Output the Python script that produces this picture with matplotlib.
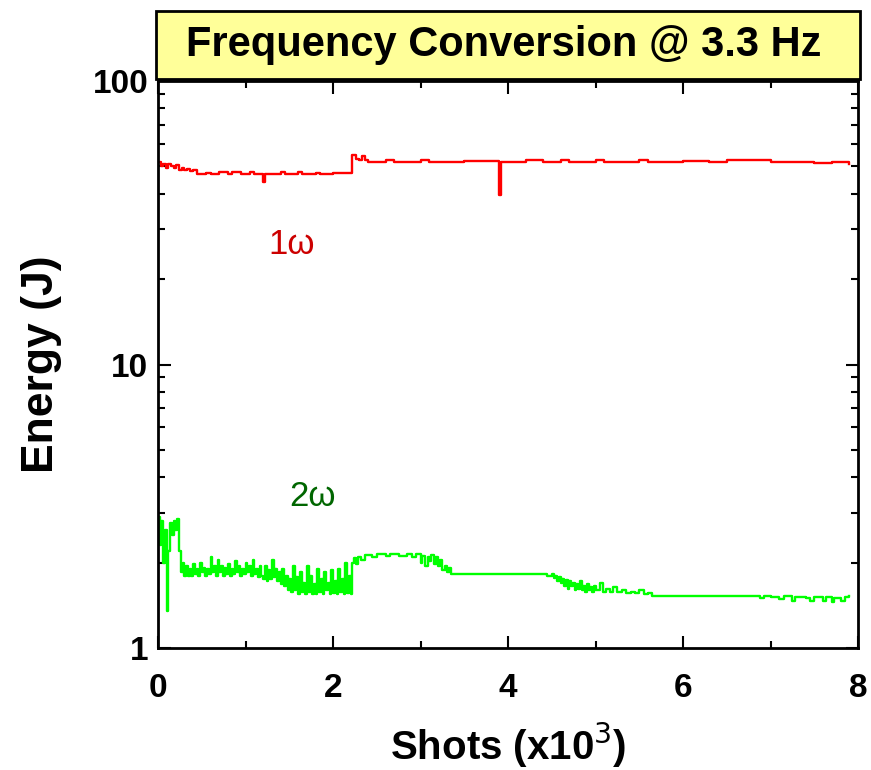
"""
    Frequency conversion energy vs shots (log scale)
"""
import matplotlib
matplotlib.use('Agg')
import matplotlib.pyplot as plt
from matplotlib.patches import Rectangle
from matplotlib.ticker import LogLocator, NullFormatter, MultipleLocator

plt.rcParams['font.family'] = ['Liberation Sans', 'DejaVu Sans']

# 1w energy (J) vs shots (x10^3)
shots_1w = [0.00, 0.03, 0.06, 0.09, 0.12, 0.15, 0.18, 0.21, 0.24, 0.27,
            0.30, 0.33, 0.36, 0.40, 0.45, 0.55, 0.60, 0.70, 0.80, 0.85,
            0.95, 1.05, 1.10, 1.20, 1.22, 1.40, 1.45, 1.60, 1.65, 1.80,
            1.85, 2.00, 2.20, 2.22, 2.26, 2.30, 2.33, 2.36, 2.40, 2.60,
            2.70, 3.00, 3.10, 3.50, 3.90, 3.92, 4.20, 4.40, 4.60, 4.70,
            5.00, 5.10, 5.50, 5.60, 6.00, 6.30, 6.50, 7.00, 7.20, 7.50,
            7.70, 7.90]
energy_1w = [52, 50, 51, 49.5, 51, 50, 49.5, 50.5, 48.5, 49.5,
             48.5, 49, 48, 48.5, 47, 47.5, 47, 47.8, 47, 47.8,
             47, 47.8, 47, 44, 47, 47.8, 47, 47.8, 47, 47.5,
             47, 47.3, 47.5, 55, 53, 52.5, 54.5, 52.5, 52, 52.6,
             52, 52.8, 52, 52.3, 39.5, 52, 52.6, 52, 52.6, 52,
             52.5, 52, 52.6, 52, 52.3, 52, 52.6, 52, 51.8, 51.5,
             51.8, 51]

# 2w energy (J) vs shots (x10^3)
shots_2w = [0.00, 0.02, 0.04, 0.06, 0.08, 0.10, 0.12, 0.14, 0.16, 0.18,
            0.20, 0.22, 0.24, 0.26, 0.28, 0.30, 0.32, 0.34, 0.36, 0.38,
            0.40, 0.42, 0.44, 0.46, 0.48, 0.50, 0.52, 0.54, 0.56, 0.58,
            0.60, 0.62, 0.64, 0.66, 0.68, 0.70, 0.72, 0.74, 0.76, 0.78,
            0.80, 0.82, 0.84, 0.86, 0.88, 0.90, 0.92, 0.94, 0.96, 0.98,
            1.00, 1.02, 1.04, 1.06, 1.08, 1.10, 1.12, 1.14, 1.16, 1.18,
            1.20, 1.22, 1.24, 1.26, 1.28, 1.30, 1.32, 1.34, 1.36, 1.38,
            1.40, 1.42, 1.44, 1.46, 1.48, 1.50, 1.52, 1.54, 1.56, 1.58,
            1.60, 1.62, 1.64, 1.66, 1.68, 1.70, 1.72, 1.74, 1.76, 1.78,
            1.80, 1.82, 1.84, 1.86, 1.88, 1.90, 1.92, 1.94, 1.96, 1.98,
            2.00, 2.02, 2.04, 2.06, 2.08, 2.10, 2.12, 2.14, 2.16, 2.18,
            2.20, 2.22, 2.24, 2.26, 2.28, 2.32, 2.36, 2.45, 2.50, 2.60,
            2.65, 2.75, 2.85, 2.90, 2.95, 3.00, 3.02, 3.05, 3.08, 3.10,
            3.12, 3.15, 3.18, 3.20, 3.22, 3.25, 3.28, 3.30, 3.32, 3.35,
            3.40, 3.60, 4.00, 4.30, 4.45, 4.50, 4.52, 4.54, 4.56, 4.58,
            4.60, 4.62, 4.64, 4.66, 4.68, 4.70, 4.72, 4.74, 4.76, 4.78,
            4.80, 4.82, 4.84, 4.86, 4.88, 4.90, 4.92, 4.94, 4.96, 4.98,
            5.00, 5.05, 5.08, 5.12, 5.16, 5.20, 5.24, 5.30, 5.35, 5.40,
            5.45, 5.50, 5.55, 5.60, 5.65, 5.75, 6.00, 6.50, 6.88, 6.92,
            7.00, 7.10, 7.15, 7.25, 7.28, 7.40, 7.45, 7.50, 7.60, 7.63,
            7.70, 7.73, 7.80, 7.85, 7.90]
energy_2w = [2.9, 2.3, 2.8, 2.0, 2.6, 1.35, 2.2, 2.75, 2.5, 2.8,
             2.6, 2.85, 2.2, 1.85, 2.0, 1.8, 1.95, 1.8, 1.9, 1.8,
             1.98, 1.82, 1.9, 1.8, 2.0, 1.85, 1.92, 1.8, 1.9, 1.82,
             2.1, 1.85, 1.95, 1.8, 2.05, 1.85, 1.95, 1.8, 1.92, 1.82,
             1.98, 1.8, 1.9, 1.82, 2.02, 1.85, 1.95, 1.8, 1.9, 1.82,
             2.0, 1.85, 1.95, 1.8, 2.05, 1.82, 1.9, 1.78, 1.95, 1.8,
             1.75, 1.95, 1.72, 1.88, 1.75, 2.05, 1.78, 1.9, 1.72, 1.85,
             1.68, 1.9, 1.65, 1.8, 1.6, 1.75, 1.58, 1.95, 1.6, 1.78,
             1.55, 1.85, 1.58, 1.7, 1.55, 1.95, 1.58, 1.8, 1.55, 1.68,
             1.55, 1.9, 1.58, 1.75, 1.55, 1.85, 1.6, 1.7, 1.55, 1.88,
             1.56, 1.72, 1.55, 1.9, 1.58, 1.75, 1.55, 2.0, 1.56, 1.8,
             1.55, 2.0, 2.08, 1.98, 2.1, 2.05, 2.13, 2.1, 2.15, 2.12,
             2.15, 2.12, 2.15, 2.1, 2.14, 2.0, 2.12, 1.95, 2.1, 2.02,
             2.13, 1.98, 2.1, 1.95, 2.05, 1.88, 1.95, 1.85, 1.92, 1.83,
             1.82, 1.82, 1.82, 1.82, 1.8, 1.82, 1.76, 1.8, 1.72, 1.78,
             1.7, 1.75, 1.66, 1.74, 1.62, 1.72, 1.65, 1.7, 1.6, 1.68,
             1.62, 1.72, 1.6, 1.66, 1.58, 1.68, 1.6, 1.64, 1.58, 1.66,
             1.6, 1.7, 1.58, 1.62, 1.58, 1.64, 1.58, 1.6, 1.56, 1.58,
             1.56, 1.6, 1.55, 1.56, 1.53, 1.52, 1.52, 1.52, 1.5, 1.52,
             1.51, 1.49, 1.52, 1.46, 1.51, 1.5, 1.47, 1.51, 1.46, 1.51,
             1.45, 1.5, 1.47, 1.51, 1.52]

fig = plt.figure(figsize=(8.71, 7.70), dpi=100, facecolor='white')
ax = fig.add_axes([0.1814, 0.1584, 0.8037, 0.7364])

ax.plot(shots_1w, energy_1w, color='#ff0000', lw=1.7, drawstyle='steps-post')
ax.plot(shots_2w, energy_2w, color='#00ff00', lw=1.7, drawstyle='steps-post')

ax.text(1.53, 26.4, '1ω', color='#cc0000', fontsize=25, ha='center', va='center')
ax.text(1.76, 3.41, '2ω', color='#006600', fontsize=25, ha='center', va='center')

ax.set_yscale('log')
ax.set_xlim(0, 8)
ax.set_ylim(1, 100)
ax.xaxis.set_major_locator(MultipleLocator(2))
ax.xaxis.set_minor_locator(MultipleLocator(1))
ax.yaxis.set_minor_locator(LogLocator(base=10, subs=range(2, 10)))
ax.yaxis.set_minor_formatter(NullFormatter())
ax.set_yticks([1, 10, 100])
ax.set_yticklabels(['1', '10', '100'])

ax.tick_params(which='both', direction='in', top=True, right=True, width=1.5)
ax.tick_params(which='major', length=9, labelsize=24)
ax.tick_params(axis='x', which='major', pad=18)
ax.tick_params(axis='y', which='major', pad=7)
ax.tick_params(which='minor', length=5)
for lab in ax.get_xticklabels() + ax.get_yticklabels():
    lab.set_fontweight('bold')
for sp in ax.spines.values():
    sp.set_linewidth(2)

ax.set_xlabel('Shots (x10$^{3}$)', fontsize=29, fontweight='bold', labelpad=12)
ax.set_ylabel('Energy (J)', fontsize=32, fontweight='bold', labelpad=22)

# title box
fig.patches.append(Rectangle((0.179, 0.897), 0.808, 0.089, transform=fig.transFigure,
                             facecolor='#ffff99', edgecolor='black', lw=2, zorder=5))
fig.text(0.578, 0.9415, 'Frequency Conversion @ 3.3 Hz', fontsize=30,
         fontweight='bold', ha='center', va='center', zorder=6)

fig.savefig('out.png', dpi=100)
